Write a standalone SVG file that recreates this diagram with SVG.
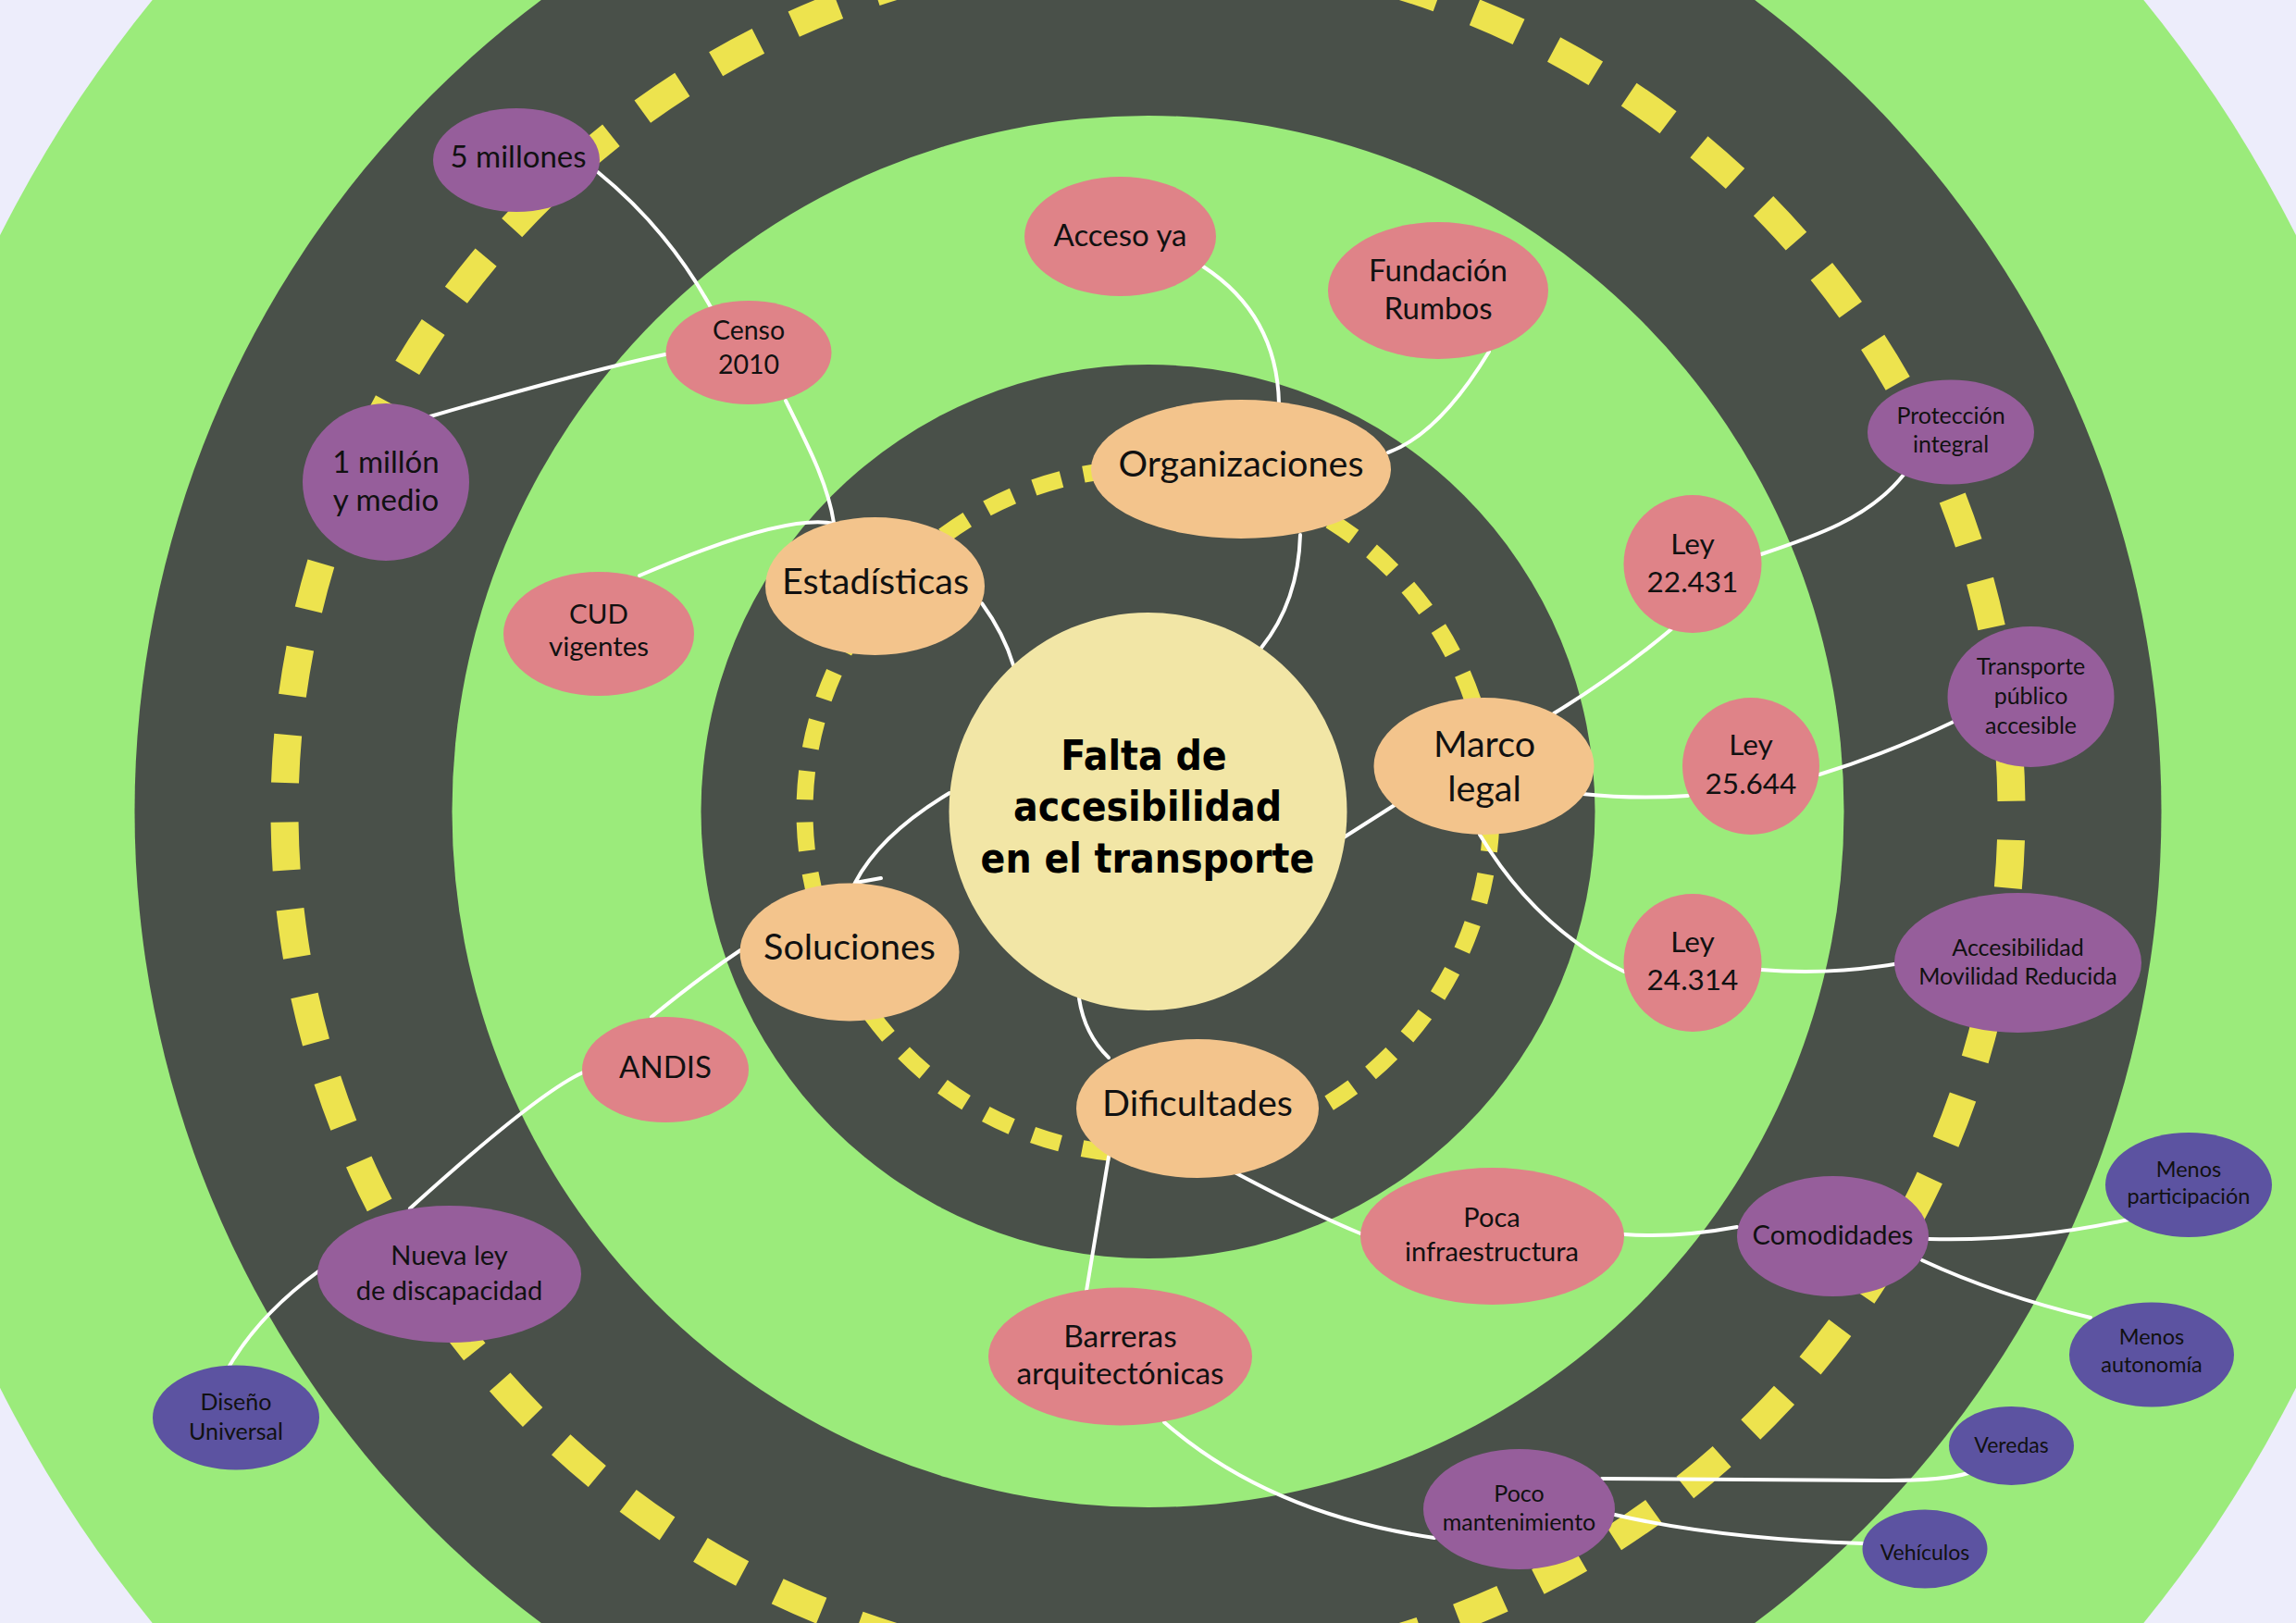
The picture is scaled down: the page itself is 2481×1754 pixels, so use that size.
<svg xmlns="http://www.w3.org/2000/svg" width="2481" height="1754" viewBox="0 0 2481 1754">
  <style>
    .ring-green { fill: #9BEB7B; }
    .ring-dark { fill: #495049; }
    .lane { fill: none; stroke: #EDE34E; }
    .link { fill: none; stroke: #FFFFFF; stroke-width: 4; stroke-linecap: round; }
    .core { fill: #F2E6A6; }
    .n1 { fill: #F3C48C; }
    .n2 { fill: #DF8388; }
    .n3 { fill: #965E9B; }
    .n4 { fill: #5C53A1; }
    text { font-family: Lato, "Noto Sans", "DejaVu Sans", sans-serif; fill: #111111; text-anchor: middle; }
    .title { font-family: "DejaVu Sans Condensed", "DejaVu Sans", sans-serif; font-weight: bold; font-size: 44px; fill: #000000; }
  </style>

  <!-- background and road rings -->
  <rect width="2481" height="1754" fill="#EDEDFB"/>
  <g id="rings">
    <circle class="ring-green" cx="1240.5" cy="877" r="1388"/>
    <circle class="ring-dark" cx="1240.5" cy="877" r="1095"/>
    <circle class="ring-green" cx="1240.5" cy="877" r="752"/>
    <circle class="ring-dark" cx="1240.5" cy="877" r="483"/>
    <circle class="lane" cx="1240.5" cy="877" r="933" stroke-width="30" stroke-dasharray="52 42.55" stroke-dashoffset="63.8"/>
    <circle class="lane" cx="1240.5" cy="877" r="371" stroke-width="18" stroke-dasharray="31 24.5" stroke-dashoffset="43"/>
  </g>

  <!-- connectors -->
  <g id="connectors" class="link">
    <path d="M1363 700 Q1403 650 1405 578"/>
    <path d="M1095 719 Q1085 685 1061 652"/>
    <path d="M849 433 C875 485 895 525 901 565"/>
    <path d="M646 186 Q721 247 768 332"/>
    <path d="M465 450 Q637 400 719 383"/>
    <path d="M691 622 Q849 554 902 566"/>
    <path d="M1300 288 Q1380 340 1382 436"/>
    <path d="M1500 489 Q1555 469 1609 380"/>
    <path d="M1452 905 L1507 870"/>
    <path d="M1679 771 Q1745 731 1806 680"/>
    <path d="M1710 858 Q1766 864 1824 860"/>
    <path d="M1599 902 Q1659 1002 1755 1050"/>
    <path d="M1903 599 C1960 580 2020 560 2057 513"/>
    <path d="M1966 837 Q2038 815 2111 780"/>
    <path d="M1903 1048 Q1974 1054 2047 1042"/>
    <path d="M1026 857 Q951 902 924 954 L952 949"/>
    <path d="M800 1027 Q755 1057 704 1099"/>
    <path d="M630 1159 Q581 1181 443 1306"/>
    <path d="M344 1374 Q281 1420 248 1476"/>
    <path d="M1166 1079 Q1172 1118 1198 1143"/>
    <path d="M1198 1250 L1174 1395"/>
    <path d="M1336 1268 Q1421 1313 1470 1333"/>
    <path d="M1755 1334 Q1813 1338 1877 1326"/>
    <path d="M2084 1339 Q2190 1342 2300 1318"/>
    <path d="M2077 1362 Q2159 1400 2259 1424"/>
    <path d="M1258 1537 Q1371 1636 1550 1662"/>
    <path d="M1731 1598 L2040 1600 Q2100 1600 2127 1592"/>
    <path d="M1745 1637 Q1857 1663 2013 1668"/>
  </g>

  <!-- central topic -->
  <g id="node-falta">
    <circle class="core" cx="1240.5" cy="877" r="215"/>
    <text class="title" x="1236" y="832">Falta de</text>
    <text class="title" x="1240" y="887">accesibilidad</text>
    <text class="title" x="1240" y="943">en el transporte</text>
  </g>

  <!-- first level -->
  <g id="node-organizaciones">
    <ellipse class="n1" cx="1341" cy="507" rx="162" ry="75"/>
    <text x="1341" y="515" font-size="39.5">Organizaciones</text>
  </g>
  <g id="node-estadisticas">
    <ellipse class="n1" cx="945.5" cy="633.5" rx="118.5" ry="74.5"/>
    <text x="946" y="642" font-size="39.5">Estadísticas</text>
  </g>
  <g id="node-marco">
    <ellipse class="n1" cx="1603.5" cy="828" rx="119" ry="74"/>
    <text x="1604" y="818" font-size="39.5">Marco</text>
    <text x="1604" y="865.5" font-size="39.5">legal</text>
  </g>
  <g id="node-soluciones">
    <ellipse class="n1" cx="918" cy="1029" rx="118.5" ry="74.5"/>
    <text x="918" y="1037" font-size="39.5">Soluciones</text>
  </g>
  <g id="node-dificultades">
    <ellipse class="n1" cx="1294" cy="1198" rx="131" ry="75"/>
    <text x="1294" y="1206" font-size="39.5">Dificultades</text>
  </g>

  <!-- second level -->
  <g id="node-acceso">
    <ellipse class="n2" cx="1210.5" cy="255.5" rx="103.5" ry="64.5"/>
    <text x="1210.5" y="266" font-size="33">Acceso ya</text>
  </g>
  <g id="node-fundacion">
    <ellipse class="n2" cx="1554" cy="314" rx="119" ry="74"/>
    <text x="1554" y="304" font-size="33">Fundación</text>
    <text x="1554" y="345" font-size="33">Rumbos</text>
  </g>
  <g id="node-censo">
    <ellipse class="n2" cx="809" cy="381" rx="89.5" ry="56"/>
    <text x="809" y="366.5" font-size="28.5">Censo</text>
    <text x="809" y="403.5" font-size="28.5">2010</text>
  </g>
  <g id="node-cud">
    <ellipse class="n2" cx="647" cy="685" rx="103" ry="67"/>
    <text x="647" y="674" font-size="29.5">CUD</text>
    <text x="647" y="709" font-size="29.5">vigentes</text>
  </g>
  <g id="node-ley22431">
    <circle class="n2" cx="1829" cy="609.5" r="74.5"/>
    <text x="1829" y="599" font-size="31.5">Ley</text>
    <text x="1829" y="640" font-size="31.5">22.431</text>
  </g>
  <g id="node-ley25644">
    <circle class="n2" cx="1892" cy="828" r="74"/>
    <text x="1892" y="816" font-size="31.5">Ley</text>
    <text x="1892" y="857.5" font-size="31.5">25.644</text>
  </g>
  <g id="node-ley24314">
    <circle class="n2" cx="1829" cy="1040.5" r="74.5"/>
    <text x="1829" y="1028.5" font-size="31.5">Ley</text>
    <text x="1829" y="1069.5" font-size="31.5">24.314</text>
  </g>
  <g id="node-andis">
    <ellipse class="n2" cx="719" cy="1156" rx="90" ry="57"/>
    <text x="719" y="1165" font-size="33">ANDIS</text>
  </g>
  <g id="node-poca-infra">
    <ellipse class="n2" cx="1612.5" cy="1336" rx="142.5" ry="74"/>
    <text x="1612" y="1326" font-size="29">Poca</text>
    <text x="1612" y="1362.5" font-size="29">infraestructura</text>
  </g>
  <g id="node-barreras">
    <ellipse class="n2" cx="1210.5" cy="1466" rx="142.5" ry="74.5"/>
    <text x="1210.5" y="1456" font-size="33.5">Barreras</text>
    <text x="1210.5" y="1496" font-size="33.5">arquitectónicas</text>
  </g>

  <!-- third level -->
  <g id="node-5millones">
    <ellipse class="n3" cx="558" cy="173" rx="90" ry="56"/>
    <text x="560" y="181" font-size="33">5 millones</text>
  </g>
  <g id="node-1millon">
    <ellipse class="n3" cx="417" cy="521" rx="90" ry="85"/>
    <text x="417" y="511" font-size="33">1 millón</text>
    <text x="417" y="551.5" font-size="33">y medio</text>
  </g>
  <g id="node-proteccion">
    <ellipse class="n3" cx="2108" cy="467" rx="90" ry="56.5"/>
    <text x="2108" y="458" font-size="25">Protección</text>
    <text x="2108" y="489" font-size="25">integral</text>
  </g>
  <g id="node-transporte">
    <ellipse class="n3" cx="2194.5" cy="753" rx="90" ry="76"/>
    <text x="2194.5" y="729" font-size="25">Transporte</text>
    <text x="2194.5" y="761" font-size="25">público</text>
    <text x="2194.5" y="793" font-size="25">accesible</text>
  </g>
  <g id="node-accesibilidad">
    <ellipse class="n3" cx="2180.5" cy="1040.5" rx="133.5" ry="75.5"/>
    <text x="2180.5" y="1032.5" font-size="25">Accesibilidad</text>
    <text x="2180.5" y="1064" font-size="25">Movilidad Reducida</text>
  </g>
  <g id="node-nueva-ley">
    <ellipse class="n3" cx="485.5" cy="1377" rx="142.5" ry="74"/>
    <text x="485.5" y="1366.5" font-size="29">Nueva ley</text>
    <text x="485.5" y="1404.5" font-size="29">de discapacidad</text>
  </g>
  <g id="node-comodidades">
    <ellipse class="n3" cx="1980.5" cy="1336" rx="103.5" ry="65"/>
    <text x="1980.5" y="1344.5" font-size="29">Comodidades</text>
  </g>
  <g id="node-poco-mant">
    <ellipse class="n3" cx="1641.5" cy="1631" rx="103.5" ry="65"/>
    <text x="1641.5" y="1623" font-size="25">Poco</text>
    <text x="1641.5" y="1654" font-size="25">mantenimiento</text>
  </g>

  <!-- fourth level -->
  <g id="node-diseno">
    <ellipse class="n4" cx="255" cy="1532" rx="90" ry="56.5"/>
    <text x="255" y="1524" font-size="25">Diseño</text>
    <text x="255" y="1556" font-size="25">Universal</text>
  </g>
  <g id="node-menos-part">
    <ellipse class="n4" cx="2365" cy="1280.5" rx="90" ry="56.5"/>
    <text x="2365" y="1272" font-size="23.5">Menos</text>
    <text x="2365" y="1300.5" font-size="23.5">participación</text>
  </g>
  <g id="node-menos-auto">
    <ellipse class="n4" cx="2325" cy="1464" rx="89" ry="56.5"/>
    <text x="2325" y="1452.5" font-size="23.5">Menos</text>
    <text x="2325" y="1482.5" font-size="23.5">autonomía</text>
  </g>
  <g id="node-veredas">
    <ellipse class="n4" cx="2173.5" cy="1562.5" rx="67.5" ry="42.5"/>
    <text x="2173.5" y="1570" font-size="23">Veredas</text>
  </g>
  <g id="node-vehiculos">
    <ellipse class="n4" cx="2080" cy="1674" rx="67.5" ry="42.5"/>
    <text x="2080" y="1686" font-size="23">Vehículos</text>
  </g>
</svg>
